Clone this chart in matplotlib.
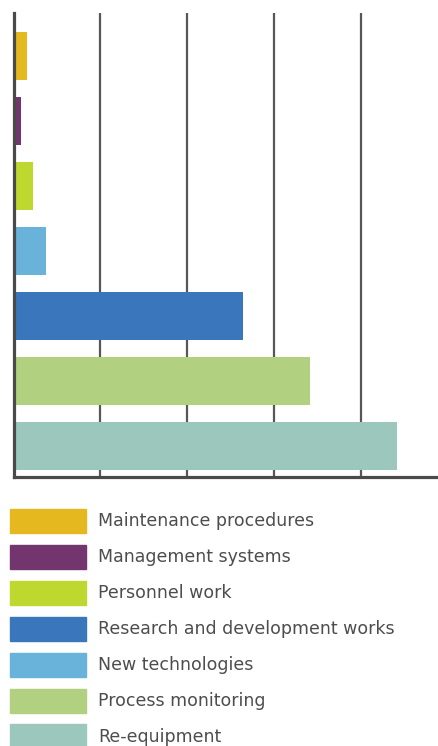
import matplotlib
matplotlib.use('Agg')
import matplotlib.pyplot as plt
from matplotlib.patches import Rectangle

# bars, top to bottom
bar_names = ['Maintenance procedures', 'Management systems', 'Personnel work',
             'New technologies', 'Research and development works',
             'Process monitoring', 'Re-equipment']
bar_values = [1.5, 0.9, 2.3, 3.7, 26.4, 34.2, 44.2]

# legend order as printed
legend_names = ['Maintenance procedures', 'Management systems', 'Personnel work',
                'Research and development works', 'New technologies',
                'Process monitoring', 'Re-equipment']

colors = {
    'Maintenance procedures': '#E5B81F',
    'Management systems': '#72356E',
    'Personnel work': '#BED82F',
    'Research and development works': '#3A76BB',
    'New technologies': '#69B2D9',
    'Process monitoring': '#B1D180',
    'Re-equipment': '#9BC7BC',
}

W, H = 438, 746
fig = plt.figure(figsize=(W / 100, H / 100), dpi=100)
ax = fig.add_axes([13.5 / W, 1 - 477 / H, (438 - 13.5) / W, (477 - 13) / H])

ypos = list(range(len(bar_values)))
ax.barh(ypos, bar_values, height=0.74,
        color=[colors[n] for n in bar_names], zorder=3)

ax.set_xlim(0, 48.9)
ax.set_ylim(6.48, -0.66)
ax.set_xticks([10, 20, 30, 40])
ax.set_xticklabels([])
ax.set_yticks([])
ax.tick_params(axis='x', length=0)
ax.grid(axis='x', color='#575757', linewidth=1.6, zorder=1)
for s in ['top', 'right']:
    ax.spines[s].set_visible(False)
for s in ['left', 'bottom']:
    ax.spines[s].set_color('#4a4a4a')
    ax.spines[s].set_linewidth(2.3)
    ax.spines[s].set_zorder(4)

# legend drawn by hand below the plot
row0 = 521
pitch = 35.9
for i, name in enumerate(legend_names):
    yc = row0 + i * pitch
    fig.patches.append(Rectangle((10 / W, 1 - (yc + 12) / H), 76 / W, 24 / H,
                                 transform=fig.transFigure,
                                 color=colors[name]))
    fig.text(98 / W, 1 - (yc + 0.5) / H, name, fontsize=12.55, color='#4d4d4d',
             va='center', ha='left', family='DejaVu Sans')

fig.savefig('out.png', dpi=100)
